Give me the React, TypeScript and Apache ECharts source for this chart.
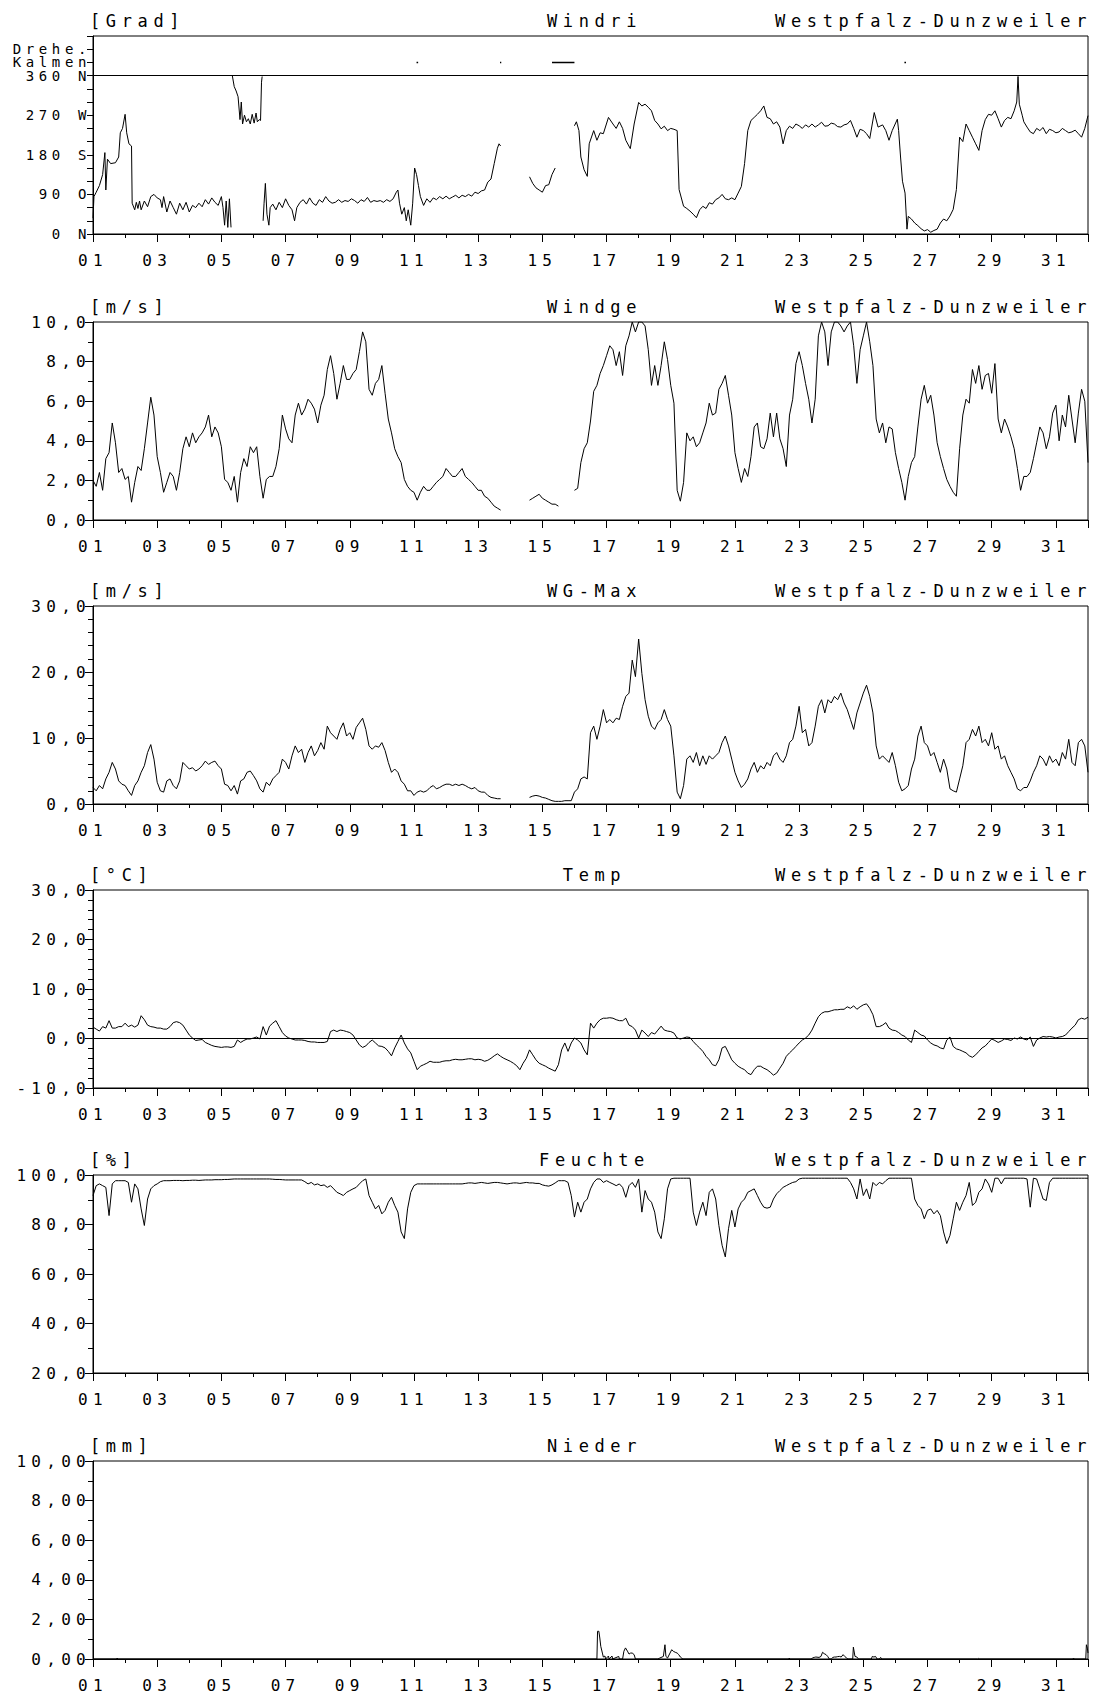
import React, { useEffect, useRef } from "react";
import * as echarts from "echarts";

// ---------------- data ----------------
const STATION = "Westpfalz-Dunzweiler";
const dayLabels = ["01","03","05","07","09","11","13","15","17","19","21","23","25","27","29","31"];

const windDirLabels: Record<number, string> = { 0: "0 N", 90: "90 O", 180: "180 S", 270: "270 W", 360: "360 N", 390: "Kalmen", 420: "Drehe." };
const speedLabels = ["0,0", "2,0", "4,0", "6,0", "8,0", "10,0"];
const gustLabels = ["0,0", "10,0", "20,0", "30,0"];
const tempLabels = ["-10,0", "0,0", "10,0", "20,0", "30,0"];
const humidityLabels = ["20,0", "40,0", "60,0", "80,0", "100,0"];
const precipLabels = ["0,00", "2,00", "4,00", "6,00", "8,00", "10,00"];

// wind direction [day, degrees] (null = no data)
const windDirection: [number, number | null][] = [
  [1.0,36],[1.03,85],[1.1,95],[1.2,110],[1.3,135],[1.37,185],[1.4,100],[1.45,170],[1.55,160],[1.7,162],[1.8,175],[1.85,230],[1.92,240],[2.0,272],[2.05,230],[2.12,205],[2.2,200],[2.22,70],[2.3,55],[2.35,72],[2.4,58],[2.45,75],[2.5,55],[2.6,75],[2.7,62],[2.8,85],[2.9,90],[3.0,82],[3.1,78],[3.15,60],[3.2,85],[3.3,50],[3.4,75],[3.5,60],[3.6,45],[3.7,70],[3.8,55],[3.9,72],[4.0,50],[4.1,65],[4.2,60],[4.3,70],[4.4,62],[4.5,78],[4.6,68],[4.7,82],[4.8,72],[4.9,65],[5.0,85],[5.05,60],[5.1,20],[5.15,75],[5.2,15],[5.25,80],[5.3,15],
  [5.32,null],
  [5.34,360],[5.4,335],[5.46,325],[5.52,312],[5.58,260],[5.62,300],[5.66,250],[5.72,270],[5.78,255],[5.84,262],[5.9,250],[5.96,272],[6.02,252],[6.08,275],[6.12,255],[6.18,260],[6.22,258],[6.25,345],[6.27,358],
  [6.28,null],
  [6.3,30],[6.33,70],[6.37,115],[6.42,45],[6.48,20],[6.52,60],[6.6,68],[6.7,55],[6.8,72],[6.9,60],[7.0,80],[7.1,65],[7.2,55],[7.28,30],[7.35,60],[7.45,72],[7.55,78],[7.65,68],[7.75,82],[7.85,70],[7.95,65],[8.05,78],[8.15,72],[8.25,85],[8.35,75],[8.45,70],[8.55,72],[8.65,78],[8.75,72],[8.85,76],[8.95,74],[9.05,80],[9.15,76],[9.25,70],[9.35,78],[9.45,74],[9.55,83],[9.65,72],[9.75,76],[9.85,74],[9.95,76],[10.05,72],[10.15,78],[10.25,74],[10.35,80],[10.45,95],[10.5,100],[10.55,70],[10.62,45],[10.7,60],[10.76,30],[10.82,55],[10.9,20],[10.96,70],[11.02,150],[11.08,135],[11.14,110],[11.2,85],[11.3,65],[11.4,80],[11.5,72],[11.6,82],[11.7,78],[11.8,85],[11.9,80],[12.0,86],[12.1,80],[12.2,84],[12.3,88],[12.4,82],[12.5,88],[12.6,85],[12.7,90],[12.8,86],[12.9,95],[13.0,92],[13.1,98],[13.2,100],[13.3,118],[13.4,125],[13.5,160],[13.6,195],[13.65,205],[13.7,200],
  [13.72,null],
  [14.6,130],[14.7,115],[14.8,105],[14.9,100],[15.0,95],[15.1,110],[15.2,112],[15.3,135],[15.4,150],
  [15.45,null],
  [16.0,246],[16.06,255],[16.14,235],[16.2,175],[16.3,146],[16.4,131],[16.46,205],[16.6,235],[16.7,213],[16.8,230],[16.9,228],[17.06,265],[17.2,250],[17.3,240],[17.4,255],[17.5,240],[17.6,213],[17.74,194],[17.86,250],[18.0,299],[18.1,291],[18.2,295],[18.3,288],[18.4,280],[18.5,258],[18.6,250],[18.7,239],[18.8,245],[18.9,235],[19.0,240],[19.1,238],[19.2,235],[19.26,101],[19.4,63],[19.5,58],[19.6,52],[19.7,45],[19.8,37],[19.9,55],[20.0,63],[20.1,58],[20.2,71],[20.3,68],[20.4,78],[20.5,82],[20.6,90],[20.7,80],[20.8,78],[20.9,82],[21.0,78],[21.1,93],[21.2,108],[21.3,160],[21.4,235],[21.5,258],[21.6,265],[21.7,272],[21.8,280],[21.9,291],[22.0,265],[22.1,262],[22.2,250],[22.3,255],[22.4,243],[22.5,205],[22.6,235],[22.7,245],[22.8,240],[22.9,250],[23.0,246],[23.1,240],[23.2,248],[23.3,243],[23.4,250],[23.5,243],[23.6,248],[23.7,254],[23.8,245],[23.9,246],[24.0,252],[24.1,250],[24.2,244],[24.3,243],[24.4,248],[24.5,250],[24.6,258],[24.7,240],[24.8,220],[24.9,238],[25.0,235],[25.1,228],[25.2,217],[25.34,276],[25.46,243],[25.6,248],[25.7,235],[25.8,213],[25.9,235],[26.06,261],[26.1,235],[26.16,175],[26.22,120],[26.3,93],[26.36,11],[26.4,40],[26.5,34],[26.6,25],[26.7,19],[26.8,12],[26.9,7],[27.0,10],[27.1,4],[27.2,8],[27.3,11],[27.4,25],[27.5,34],[27.6,30],[27.7,41],[27.8,56],[27.9,101],[28.0,220],[28.1,210],[28.2,250],[28.3,235],[28.4,220],[28.5,205],[28.6,190],[28.7,235],[28.8,260],[28.9,272],[29.0,270],[29.1,280],[29.2,262],[29.3,243],[29.4,258],[29.5,265],[29.6,262],[29.7,280],[29.78,300],[29.82,358],[29.86,295],[29.95,270],[30.0,255],[30.1,243],[30.2,232],[30.3,228],[30.4,240],[30.5,235],[30.6,242],[30.7,228],[30.8,238],[30.9,235],[31.0,230],[31.1,232],[31.2,240],[31.3,235],[31.4,230],[31.5,232],[31.6,236],[31.7,228],[31.8,220],[31.9,240],[32.0,269]
];

// "Kalmen" (calm) markers [day, level]
const calmMarks: [number, number | null][] = [
  [11.08,390],[11.13,390],[11.15,null],[13.68,390],[13.72,390],[13.74,null],[15.3,390],[16.0,390],[16.02,null],[26.28,390],[26.33,390]
];

// regular series: first value at day 1.0, one value every 0.1 day
const SERIES_START_DAY = 1.0;
const SERIES_STEP_DAY = 0.1;

const windSpeed: (number | null)[] = [
  2.0,1.7,2.4,1.5,3.1,3.4,4.9,3.9,2.4,2.6,
  2.05,2.2,0.9,1.9,2.7,2.5,3.6,4.9,6.2,5.3,
  3.2,2.4,1.4,1.9,2.4,2.2,1.5,2.4,3.6,4.2,
  3.7,4.4,3.9,4.2,4.4,4.7,5.3,4.2,4.7,4.4,
  3.7,2.05,1.9,1.5,2.2,0.9,2.4,3.1,2.7,3.7,
  3.4,3.7,2.2,1.1,2.05,2.2,2.2,2.7,3.6,5.3,
  4.6,4.1,3.9,5.3,5.9,5.3,5.6,6.1,5.9,5.6,
  4.9,5.8,6.3,7.6,8.3,7.4,6.1,6.9,7.8,7.1,
  7.1,7.4,7.6,8.5,9.5,9.0,6.6,6.3,6.9,7.1,
  7.8,6.4,5.1,4.4,3.6,3.2,2.9,2.05,1.7,1.5,
  1.4,1.0,1.4,1.7,1.5,1.5,1.7,1.9,2.05,2.2,
  2.6,2.4,2.2,2.2,2.4,2.6,2.2,2.05,1.9,1.7,
  1.5,1.5,1.2,1.1,0.9,0.7,0.6,0.5,null,null,
  null,null,null,null,null,null,1.0,1.1,1.2,1.3,
  1.1,1.0,0.9,0.8,0.8,0.7,null,null,null,null,
  1.5,1.6,2.9,3.6,3.9,5.0,6.5,6.8,7.4,7.8,
  8.3,8.8,8.6,7.8,8.5,7.3,8.8,9.3,10.0,9.5,
  10.0,10.0,9.8,8.6,6.8,7.8,6.8,7.8,9.0,8.1,
  6.8,5.9,1.5,0.95,1.9,4.4,4.0,4.2,3.7,3.9,
  4.4,4.9,5.9,5.3,5.4,6.6,6.9,7.3,6.3,5.3,
  3.4,2.6,1.9,2.6,2.2,3.2,4.7,4.9,3.7,3.6,
  4.1,5.4,4.2,5.4,4.1,3.6,2.7,5.3,6.1,7.9,
  8.5,7.8,6.9,6.1,4.9,6.1,9.3,10.0,9.5,7.8,
  9.5,10.0,10.0,9.8,9.5,9.8,10.0,8.8,6.9,8.6,
  9.3,10.0,9.0,7.8,5.1,4.4,4.9,3.9,4.7,4.6,
  3.4,2.6,1.9,1.0,2.2,2.9,3.2,4.7,6.1,6.8,
  5.9,6.3,5.3,3.9,3.2,2.6,2.05,1.7,1.4,1.2,
  3.6,5.3,6.1,5.9,7.6,6.9,7.8,6.6,7.3,7.4,
  6.4,7.9,5.1,4.4,5.1,4.7,4.2,3.6,2.6,1.5,
  2.2,2.2,2.4,3.1,3.9,4.7,4.4,3.6,4.2,5.4,
  5.8,4.0,5.3,4.7,6.3,5.1,3.9,5.4,6.6,6.0,
  2.9
];

const windGust: (number | null)[] = [
  2.5,2.0,2.8,2.3,3.8,4.8,6.3,5.3,3.5,3.0,
  2.8,2.0,1.3,2.8,3.5,4.8,5.8,7.8,9.0,6.8,
  3.3,2.0,1.8,3.5,3.8,2.8,2.3,3.5,6.3,5.8,
  5.3,5.5,5.0,5.3,5.8,6.5,6.0,6.3,6.5,5.8,
  5.3,3.0,2.8,2.0,2.8,1.5,3.5,3.8,4.8,5.0,
  4.3,3.5,2.3,1.8,3.3,2.8,3.8,4.3,4.8,6.8,
  6.3,5.3,7.3,8.8,7.8,8.3,6.3,7.8,8.8,7.3,
  8.1,9.3,8.3,11.8,10.8,10.3,9.8,11.3,12.3,10.3,
  10.8,9.8,11.6,12.3,13.0,11.3,8.8,8.3,8.8,8.6,
  9.3,8.1,6.3,4.8,5.3,4.8,3.5,3.0,2.0,2.0,
  1.3,1.8,2.0,1.8,2.0,2.5,2.8,2.3,2.5,2.8,
  3.0,3.0,2.8,3.0,2.8,3.0,2.8,2.5,2.3,2.5,
  2.0,1.8,1.8,1.3,1.0,0.9,0.8,0.8,null,null,
  null,null,null,null,null,null,1.0,1.2,1.3,1.2,
  1.0,0.9,0.7,0.5,0.4,0.4,0.4,0.5,0.5,0.5,
  1.8,2.3,3.8,4.1,3.8,10.8,11.8,9.8,11.8,14.3,
  12.3,12.8,12.3,13.0,12.8,14.8,16.3,16.8,21.8,19.3,
  25.0,19.8,15.8,13.3,11.8,11.3,12.3,12.8,14.3,12.8,
  11.8,7.3,1.8,0.8,2.8,6.8,7.3,6.3,7.8,5.8,
  7.3,6.0,7.3,6.8,7.3,7.8,9.3,10.3,8.8,6.8,
  4.8,3.5,2.5,3.0,3.8,5.3,6.3,4.8,5.8,5.3,
  6.3,5.8,7.3,7.8,6.8,6.3,7.3,9.3,9.8,11.8,
  14.8,10.8,11.3,8.8,9.3,11.8,14.8,15.8,13.8,15.8,
  15.3,16.3,15.8,16.8,15.3,14.3,12.8,11.3,13.8,15.3,
  16.8,18.0,16.3,13.8,8.8,6.8,7.3,6.8,6.3,7.8,
  5.8,3.3,2.0,2.3,2.8,5.3,6.8,10.3,11.8,9.3,
  8.8,7.3,7.8,6.3,4.8,6.8,5.3,2.3,2.0,1.8,
  3.8,5.8,9.3,9.8,11.3,10.3,11.8,9.3,9.8,8.8,
  10.8,8.3,8.8,6.8,7.3,5.8,4.8,3.8,2.3,2.0,
  2.5,2.5,3.5,4.8,5.8,7.3,6.8,5.8,7.3,6.3,
  6.8,5.8,7.8,6.8,9.8,6.3,5.8,9.3,9.8,8.8,
  4.8
];

const temperature: (number | null)[] = [
  2.3,1.9,1.5,2.4,2.1,3.6,2.1,2.1,2.4,2.4,
  3.1,2.4,2.7,2.3,2.7,4.6,3.8,2.7,2.4,2.3,
  2.1,2.1,1.9,1.9,2.4,3.2,3.4,3.2,2.7,1.7,
  0.7,0.1,-0.4,-0.3,-0.2,-0.8,-1.1,-1.4,-1.6,-1.7,
  -1.8,-1.7,-1.7,-1.8,-1.6,-0.3,-0.8,-0.4,-0.1,-0.1,
  0.1,0.3,-0.1,2.4,0.7,2.5,3.1,3.6,2.4,1.2,
  0.5,0.1,-0.1,-0.3,-0.3,-0.3,-0.4,-0.6,-0.7,-0.7,
  -0.8,-0.8,-0.8,-0.6,1.4,1.7,1.4,1.7,1.6,1.4,
  1.2,0.7,-0.3,-1.3,-1.8,-1.5,-0.8,-0.3,-0.9,-1.5,
  -1.6,-1.9,-2.6,-3.5,-1.9,-0.6,0.7,-0.9,-2.1,-2.9,
  -4.6,-6.3,-5.6,-5.3,-5.0,-4.6,-4.8,-4.8,-4.8,-4.6,
  -4.5,-4.5,-4.3,-4.2,-4.3,-4.3,-4.2,-4.1,-4.1,-4.3,
  -4.2,-4.3,-4.6,-4.4,-4.0,-3.5,-3.1,-3.6,-4.0,-4.3,
  -4.6,-5.0,-5.5,-6.3,-5.0,-4.0,-2.3,-3.3,-4.3,-5.0,
  -5.3,-5.6,-6.0,-6.3,-6.6,-5.3,-2.3,-0.9,-2.6,-0.9,
  0.1,-0.3,-0.9,-2.3,-3.3,3.1,2.1,3.1,3.8,4.1,
  4.1,4.2,4.1,3.8,3.6,3.6,4.1,2.7,2.4,1.7,
  0.1,1.7,1.1,0.4,1.2,0.9,1.7,2.5,1.7,1.5,
  1.4,1.1,0.1,-0.1,0.1,0.3,0.2,-0.6,-1.3,-1.9,
  -2.6,-3.6,-4.3,-5.3,-5.5,-4.3,-1.9,-1.6,-2.9,-4.3,
  -5.0,-5.6,-6.0,-6.3,-7.0,-7.3,-6.3,-5.6,-5.6,-6.0,
  -6.3,-6.8,-7.4,-7.0,-6.0,-5.0,-3.6,-2.9,-2.3,-1.6,
  -0.9,-0.3,0.1,0.7,1.7,3.1,4.4,5.1,5.4,5.4,
  5.6,5.8,5.8,5.9,5.9,6.4,6.1,6.6,5.9,6.4,
  6.8,7.0,6.1,4.8,2.4,2.4,2.7,3.2,2.1,1.7,
  1.6,1.2,0.7,0.4,-0.3,-0.8,1.7,1.2,0.7,0.5,
  -0.3,-0.9,-1.3,-1.5,-1.9,-2.1,-0.3,0.3,-1.6,-2.1,
  -2.3,-2.6,-2.9,-3.5,-3.8,-3.3,-2.6,-1.9,-1.5,-0.8,
  -0.1,-0.4,-0.8,-0.5,-0.1,-0.2,-0.4,0.1,-0.1,0.3,
  -0.1,-0.3,0.3,-1.6,-0.3,0.1,0.4,0.3,0.4,0.3,
  0.1,0.3,0.4,0.7,1.4,2.1,2.7,3.8,4.1,3.9,
  4.3
];

const humidity: (number | null)[] = [
  91.7,95.7,96.4,95.7,95.0,83.6,96.4,97.7,97.7,97.7,
  97.7,97.0,89.0,96.4,94.4,86.3,79.6,90.3,94.4,95.7,
  96.4,97.3,97.7,97.7,97.7,97.8,97.8,97.8,97.7,97.8,
  97.8,97.9,97.9,97.8,97.9,98.0,98.0,98.0,98.1,98.1,
  98.1,98.2,98.2,98.3,98.4,98.4,98.4,98.4,98.4,98.4,
  98.4,98.4,98.4,98.4,98.4,98.4,98.3,98.2,98.2,98.1,
  98.0,98.0,98.0,98.0,98.0,98.0,97.3,96.4,97.0,96.0,
  96.4,95.7,96.0,95.0,95.7,94.4,93.0,92.4,91.7,93.0,
  93.7,94.4,95.0,96.4,97.7,98.4,91.7,89.0,86.3,87.7,
  84.3,85.7,89.0,91.0,87.7,85.0,77.0,74.3,86.3,93.0,
  95.7,96.4,96.4,96.4,96.4,96.4,96.4,96.4,96.4,96.4,
  96.4,96.4,96.4,96.4,96.4,96.4,96.6,96.8,96.8,96.6,
  96.8,97.0,96.8,96.6,96.8,97.0,97.0,96.8,96.6,96.4,
  96.6,96.8,96.8,96.6,96.8,97.0,96.8,96.8,96.6,96.6,
  96.0,95.7,95.5,96.0,96.8,97.7,97.7,97.7,97.0,91.7,
  83.0,89.0,85.0,89.0,90.3,94.4,97.0,98.4,98.4,97.0,
  97.7,97.0,96.4,95.7,96.4,95.0,91.0,95.7,97.0,95.0,
  98.4,85.0,93.7,90.3,89.0,85.0,77.0,74.3,82.3,94.4,
  98.4,98.7,98.7,98.7,98.7,98.7,98.7,85.0,79.6,85.0,
  89.0,83.6,93.0,94.4,90.3,79.6,71.6,66.9,78.3,85.7,
  79.0,86.3,89.0,90.3,93.0,93.7,94.4,91.7,89.0,87.0,
  86.6,87.0,90.3,92.4,93.7,95.0,95.7,96.4,97.0,97.3,
  98.4,98.7,98.7,98.7,98.7,98.7,98.7,98.7,98.7,98.7,
  98.7,98.7,98.7,98.7,98.7,98.7,97.0,94.4,90.3,98.4,
  91.7,94.4,90.3,97.0,95.7,97.0,96.4,97.7,98.7,98.7,
  98.7,98.7,98.7,98.7,98.7,98.7,90.3,87.7,86.3,82.3,
  85.7,86.3,84.3,85.7,83.6,77.0,72.3,75.6,82.3,89.0,
  85.7,89.0,91.7,97.0,87.7,89.0,93.0,94.4,98.4,96.4,
  93.0,98.7,98.7,96.4,98.7,98.7,98.7,98.7,98.7,98.7,
  98.7,98.4,87.0,98.7,98.4,94.4,90.3,89.7,97.0,98.7,
  98.7,98.7,98.7,98.7,98.7,98.7,98.7,98.7,98.7,98.7,
  98.7
];

// precipitation [day, mm]
const precipitation: [number, number][] = [
  [1.0,0],[1.74,0],[1.75,0.05],[1.77,0],
  [16.7,0],[16.72,1.4],[16.76,1.4],[16.79,1.06],[16.82,0.64],[16.87,0.3],[16.9,0.1],[16.95,0.15],[16.97,0],[17.06,0.15],[17.08,0],[17.17,0.15],[17.19,0],[17.38,0.13],[17.4,0],[17.5,0],[17.54,0.39],[17.59,0.56],[17.65,0.4],[17.7,0.25],[17.75,0.3],[17.8,0.3],[17.86,0.22],[17.9,0],
  [18.6,0],[18.66,0.05],[18.77,0.13],[18.82,0.72],[18.85,0.13],[18.9,0.05],[19.03,0.47],[19.08,0.39],[19.14,0.34],[19.2,0.3],[19.25,0.22],[19.3,0.1],[19.35,0.03],[19.38,0],
  [22.68,0],[22.69,0.05],[22.71,0],
  [23.38,0],[23.41,0.05],[23.47,0.08],[23.52,0.1],[23.62,0.08],[23.68,0.13],[23.73,0.34],[23.78,0.27],[23.84,0.22],[23.89,0.13],[23.94,0],[24.0,0],[24.05,0.08],[24.1,0.1],[24.15,0.1],[24.2,0.12],[24.26,0.13],[24.31,0.1],[24.37,0.22],[24.42,0.13],[24.48,0.05],[24.52,0],[24.67,0],[24.69,0.6],[24.74,0.13],[24.8,0.1],[24.85,0],[25.25,0],[25.28,0.13],[25.33,0.1],[25.38,0.13],[25.43,0],[25.5,0],[25.54,0.08],[25.57,0],
  [28.56,0],[28.58,0.03],[28.6,0],
  [31.53,0],[31.55,0.05],[31.57,0],[31.93,0],[31.95,0.72],[31.98,0.55],[32.0,0.3]
];

// ---------------- layout ----------------
const GRID_LEFT = 93;
const GRID_WIDTH = 995;
const GRID_HEIGHT = 198;
const GRID_TOPS = [36, 322, 606, 890, 1175, 1461];
const FONT = '"DejaVu Sans Mono", monospace';
const TICK_FONT_SIZE = 16;
const TITLE_FONT_SIZE = 17;

const toX = (d: number) => Math.round((d - 1) * 1000) / 1000; // axis runs 0..31 (day 1..32)
const fromPairs = (p: [number, number | null][]) => p.map(([d, v]) => [toX(d), v === null ? "-" : v]);
const fromSteps = (vals: (number | null)[]) =>
  vals.map((v, i) => [toX(SERIES_START_DAY + i * SERIES_STEP_DAY), v === null ? "-" : v]);

type Panel = {
  unit: string; name: string; min: number; max: number; interval: number; minorSplit: number;
  label: (v: number) => string; labelSize: number; labelLineHeight?: number;
};

const listLabel = (labels: string[], min: number, interval: number) => (v: number) => {
  const i = Math.round((v - min) / interval);
  return Math.abs(min + i * interval - v) < 1e-6 && labels[i] ? labels[i] : "";
};

const panels: Panel[] = [
  { unit: "[Grad]", name: "Windri", min: 0, max: 450, interval: 30, minorSplit: 0, label: (v) => windDirLabels[Math.round(v)] || "", labelSize: 14, labelLineHeight: 12 },
  { unit: "[m/s]", name: "Windge", min: 0, max: 10, interval: 2, minorSplit: 2, label: listLabel(speedLabels, 0, 2), labelSize: TICK_FONT_SIZE },
  { unit: "[m/s]", name: "WG-Max", min: 0, max: 30, interval: 10, minorSplit: 5, label: listLabel(gustLabels, 0, 10), labelSize: TICK_FONT_SIZE },
  { unit: "[°C]", name: "Temp", min: -10, max: 30, interval: 10, minorSplit: 5, label: listLabel(tempLabels, -10, 10), labelSize: TICK_FONT_SIZE },
  { unit: "[%]", name: "Feuchte", min: 20, max: 100, interval: 20, minorSplit: 2, label: listLabel(humidityLabels, 20, 20), labelSize: TICK_FONT_SIZE },
  { unit: "[mm]", name: "Nieder", min: 0, max: 10, interval: 2, minorSplit: 2, label: listLabel(precipLabels, 0, 2), labelSize: TICK_FONT_SIZE },
];

const black = "#000";

function buildOption() {
  const grid = GRID_TOPS.map((top) => ({
    left: GRID_LEFT, top, width: GRID_WIDTH, height: GRID_HEIGHT,
    show: true, borderColor: black, borderWidth: 1, backgroundColor: "transparent",
  }));
  const xAxis = GRID_TOPS.map((_, i) => ({
    type: "value", gridIndex: i, min: 0, max: 31, interval: 2,
    axisLine: { show: true, onZero: false, lineStyle: { color: black, width: 1 } },
    axisTick: { show: true, length: 8, lineStyle: { color: black, width: 1 } },
    minorTick: { show: true, splitNumber: 2, length: 4, lineStyle: { color: black, width: 1 } },
    splitLine: { show: false }, minorSplitLine: { show: false },
    axisLabel: {
      show: true, margin: 18, color: black, fontFamily: FONT, fontSize: TICK_FONT_SIZE,
      formatter: (v: number) => (v % 2 === 0 && v <= 30 ? dayLabels[v / 2] : ""),
    },
  }));
  const yAxis = panels.map((p, i) => ({
    type: "value", gridIndex: i, min: p.min, max: p.max, interval: p.interval,
    axisLine: { show: true, onZero: false, lineStyle: { color: black, width: 1 } },
    axisTick: { show: true, length: p.minorSplit ? 8 : 6, lineStyle: { color: black, width: 1 } },
    minorTick: { show: p.minorSplit > 0, splitNumber: p.minorSplit || 5, length: 5, lineStyle: { color: black, width: 1 } },
    splitLine: { show: false }, minorSplitLine: { show: false },
    axisLabel: {
      show: true, margin: 2, color: black, fontFamily: FONT, fontSize: p.labelSize,
      ...(p.labelLineHeight ? { lineHeight: p.labelLineHeight } : {}),
      formatter: p.label,
    },
  }));
  const lineBase = {
    type: "line", showSymbol: false, symbol: "none", connectNulls: false, silent: true,
    lineStyle: { color: black, width: 1 }, itemStyle: { color: black },
  };
  const refLine = (y: number) => ({
    silent: true, symbol: "none", animation: false, label: { show: false },
    lineStyle: { color: black, width: 1, type: "solid" }, data: [{ yAxis: y }],
  });
  const series = [
    { ...lineBase, name: "Windri", xAxisIndex: 0, yAxisIndex: 0, data: fromPairs(windDirection), markLine: refLine(360) },
    { ...lineBase, name: "Kalmen", xAxisIndex: 0, yAxisIndex: 0, data: fromPairs(calmMarks), lineStyle: { color: black, width: 1.5 } },
    { ...lineBase, name: "Windge", xAxisIndex: 1, yAxisIndex: 1, data: fromSteps(windSpeed) },
    { ...lineBase, name: "WG-Max", xAxisIndex: 2, yAxisIndex: 2, data: fromSteps(windGust) },
    { ...lineBase, name: "Temp", xAxisIndex: 3, yAxisIndex: 3, data: fromSteps(temperature), markLine: refLine(0) },
    { ...lineBase, name: "Feuchte", xAxisIndex: 4, yAxisIndex: 4, data: fromSteps(humidity) },
    { ...lineBase, name: "Nieder", xAxisIndex: 5, yAxisIndex: 5, data: fromPairs(precipitation) },
  ];
  const textStyle = (text: string, align: string) => ({
    text, align, verticalAlign: "middle", fill: black, font: `${TITLE_FONT_SIZE}px ${FONT}`,
  });
  const graphic: any[] = [];
  panels.forEach((p, i) => {
    const y = GRID_TOPS[i] - 15;
    graphic.push({ type: "text", x: GRID_LEFT - 3, y, silent: true, style: textStyle(p.unit, "left") });
    graphic.push({ type: "text", x: GRID_LEFT + GRID_WIDTH / 2 + 4, y, silent: true, style: textStyle(p.name, "center") });
    graphic.push({ type: "text", x: GRID_LEFT + GRID_WIDTH + 4, y, silent: true, style: textStyle(STATION, "right") });
  });
  return { animation: false, backgroundColor: "#fff", grid, xAxis, yAxis, series, graphic };
}

export default function App() {
  const ref = useRef<HTMLDivElement>(null);
  useEffect(() => {
    if (!ref.current) return;
    const chart = echarts.init(ref.current, undefined, { renderer: "svg" });
    chart.setOption(buildOption() as any);
    return () => chart.dispose();
  }, []);
  return (
    <div style={{ position: "absolute", left: 0, top: 0, width: 1093, height: 1697, background: "#fff" }}>
      <style>{`.wx-chart text { letter-spacing: 0.33em; }`}</style>
      <div ref={ref} className="wx-chart" style={{ width: 1093, height: 1697 }} />
    </div>
  );
}
